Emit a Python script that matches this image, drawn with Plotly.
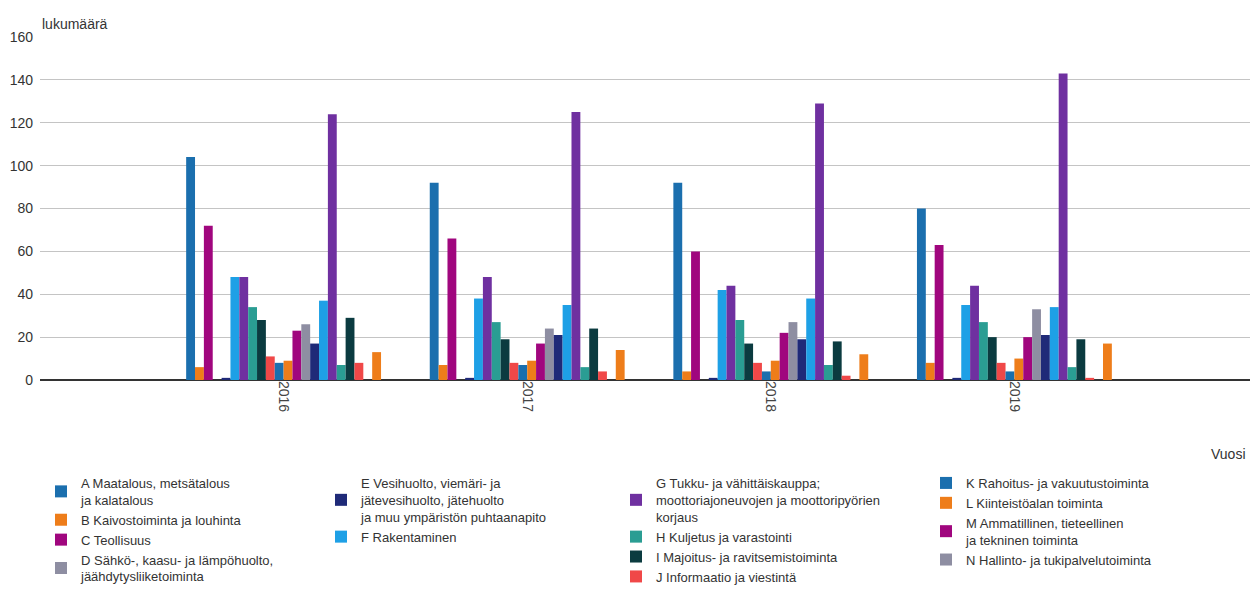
import plotly.graph_objects as go

years = ["2016", "2017", "2018", "2019"]

names = [
    "A Maatalous, metsätalous<br>ja kalatalous",
    "B Kaivostoiminta ja louhinta",
    "C Teollisuus",
    "D Sähkö-, kaasu- ja lämpöhuolto,<br>jäähdytysliiketoiminta",
    "E Vesihuolto, viemäri- ja<br>jätevesihuolto, jätehuolto<br>ja muu ympäristön puhtaanapito",
    "F Rakentaminen",
    "G Tukku- ja vähittäiskauppa;<br>moottoriajoneuvojen ja moottoripyörien<br>korjaus",
    "H Kuljetus ja varastointi",
    "I Majoitus- ja ravitsemistoiminta",
    "J Informaatio ja viestintä",
    "K Rahoitus- ja vakuutustoiminta",
    "L Kiinteistöalan toiminta",
    "M Ammatillinen, tieteellinen<br>ja tekninen toiminta",
    "N Hallinto- ja tukipalvelutoiminta",
    "O Julkinen hallinto ja maanpuolustus",
    "P Koulutus",
    "Q Terveys- ja sosiaalipalvelut",
    "R Taiteet, viihde ja virkistys",
    "S Muu palvelutoiminta",
    "T Kotitalouksien toiminta työnantajina",
    "U Kansainvälisten organisaatioiden toiminta",
    "X Toimiala tuntematon",
]

A = [104, 92, 92, 80]
B = [6, 7, 4, 8]
C = [72, 66, 60, 63]
D = [0, 0, 0, 0]
E = [1, 1, 1, 1]
F = [48, 38, 42, 35]
G = [48, 48, 44, 44]
H = [34, 27, 28, 27]
I = [28, 19, 17, 20]
J = [11, 8, 8, 8]
K = [8, 7, 4, 4]
L = [9, 9, 9, 10]
M = [23, 17, 22, 20]
N = [26, 24, 27, 33]
O = [17, 21, 19, 21]
P = [37, 35, 38, 34]
Q = [124, 125, 129, 143]
R = [7, 6, 7, 6]
S = [29, 24, 18, 19]
T = [8, 4, 2, 1]
U = [0, 0, 0, 0]
X = [13, 14, 12, 17]

series = [A, B, C, D, E, F, G, H, I, J, K, L, M, N, O, P, Q, R, S, T, U, X]

palette = ["#1B6FAE", "#EE7D1A", "#A0067E", "#8E8EA2", "#1F2A78",
           "#1EA0E6", "#6F30A0", "#2A9D93", "#0B3B40", "#F04848"]

# legend column assignment (only A-N visible in reference)
legend_of = {0: "legend", 1: "legend", 2: "legend", 3: "legend",
             4: "legend2", 5: "legend2",
             6: "legend3", 7: "legend3", 8: "legend3", 9: "legend3",
             10: "legend4", 11: "legend4", 12: "legend4", 13: "legend4"}

fig = go.Figure()
for i, (nm, vals) in enumerate(zip(names, series)):
    fig.add_trace(go.Bar(
        x=years, y=vals, name=nm,
        marker=dict(color=palette[i % 10], line=dict(width=0)),
        showlegend=i in legend_of,
        legend=legend_of.get(i, "legend"),
        legendgroup="g%d" % i,
    ))

FONT = "Liberation Sans, Arial, sans-serif"

leg_common = dict(
    orientation="v", xref="container", yref="container",
    yanchor="top", xanchor="left", y=0.2083,
    font=dict(family=FONT, size=13, color="#333333"),
    bgcolor="rgba(0,0,0,0)", tracegroupgap=3, itemwidth=30,
    traceorder="normal",
)

# page has an 8px body margin, so the figure is 8px smaller than the window
fig.update_layout(
    width=1250, height=581,
    margin=dict(l=32, r=0, t=29, b=209, autoexpand=False),
    paper_bgcolor="white", plot_bgcolor="white",
    barmode="group", bargap=0.2, bargroupgap=0,
    font=dict(family=FONT, size=14, color="#333333"),
    xaxis=dict(
        type="category", range=[-1.0, 4.0], tickangle=90,
        showgrid=False, ticks="", showline=False, zeroline=False,
        tickfont=dict(size=14, color="#444444"),
    ),
    yaxis=dict(
        range=[0, 160], dtick=20, showgrid=True, gridcolor="#c4c4c4",
        gridwidth=1, zeroline=True, zerolinecolor="#333333", zerolinewidth=2,
        ticks="", tickfont=dict(size=14, color="#333333"), ticklabelstandoff=6,
    ),
    legend=dict(leg_common, x=0.0264),
    legend2=dict(leg_common, x=0.2504),
    legend3=dict(leg_common, x=0.4864),
    legend4=dict(leg_common, x=0.7344),
    annotations=[
        dict(text="lukumäärä", xref="paper", yref="paper", x=0, y=1,
             xanchor="left", yanchor="bottom", yshift=3, showarrow=False,
             font=dict(size=14, color="#333333")),
        dict(text="Vuosi", xref="paper", yref="paper", x=1, y=0,
             xanchor="right", yanchor="top", yshift=-64, xshift=-10, showarrow=False,
             font=dict(size=14, color="#333333")),
    ],
)

fig.write_html("out.html")
